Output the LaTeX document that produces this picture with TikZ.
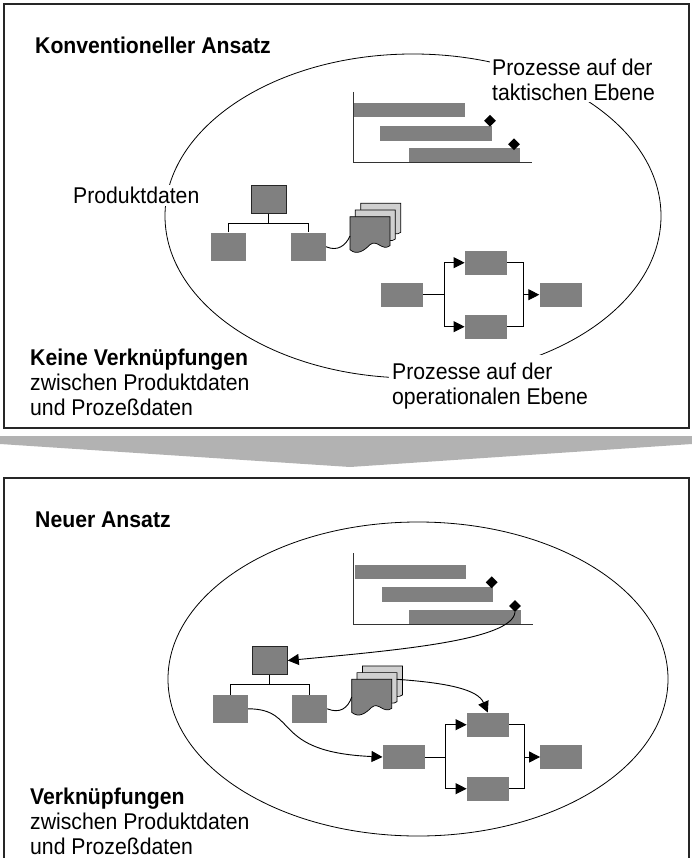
\documentclass[tikz,border=0pt]{standalone}
\usepackage{fontspec}
\setmainfont{Liberation Sans}[FakeStretch=0.93]
\usetikzlibrary{arrows.meta,shapes.geometric}
\definecolor{boxgray}{HTML}{808080}
\definecolor{sheetgray}{HTML}{D0D0D0}
\definecolor{bandgray}{HTML}{B2B2B2}
\begin{document}
\begin{tikzpicture}[x=1pt,y=-1pt,
  every node/.style={font=\fontsize{22.8}{25}\selectfont},
  frame/.style={draw=black!85, line width=1.1pt},
  ring/.style={draw=black, line width=0.8pt},
  wire/.style={draw=black, line width=0.9pt},
  flow/.style={wire, -{Triangle[length=11pt,width=11pt]}},
  axisline/.style={draw=black!80, line width=0.9pt},
  bar/.style={fill=boxgray},
  pbox/.style={fill=boxgray, inner sep=0pt, minimum width=42pt, minimum height=24pt},
  orgbox/.style={fill=boxgray, inner sep=0pt, minimum width=35pt, minimum height=28pt},
  orgtop/.style={orgbox, draw=black!85, line width=1pt},
  milestone/.style={diamond, fill=black, inner sep=0pt, minimum width=12pt, minimum height=12pt},
  lbl/.style={align=left, inner sep=0pt, anchor=north west},
  masklbl/.style={align=left, inner sep=2pt, fill=white},
  heading/.style={anchor=base west, inner sep=0pt, font=\fontsize{22.8}{25}\selectfont\bfseries},
  pics/docsheet/.style={code={
    \path[draw=black, line width=0.7pt, fill=#1]
      (0,0) -- (40,0) -- (40,29)
      .. controls (32,35) and (27,22) .. (20,28)
      .. controls (14,34) and (7,39) .. (0,33) -- cycle;
  }}
]
\useasboundingbox (0,0) rectangle (692,858);

% ---------- panel frames and transition band ----------
\draw[frame] (4,4) rectangle (689,428);
\draw[frame] (4,862) -- (4,478) -- (689,478) -- (689,862);
\fill[bandgray] (0,436) -- (692,436) -- (692,444) -- (350,467) -- (0,444) -- cycle;

% ======================= conventional approach =======================
\draw[ring] (413,216) ellipse [x radius=248, y radius=162];

\node[heading] (tTitle) at (35,54) {Konventioneller Ansatz};
\node[masklbl, anchor=north west] (tTact) at (490,56.4) {Prozesse auf der\\taktischen Ebene};
\node[masklbl, anchor=base west] (tProd) at (71,204) {Produktdaten};
\node[masklbl, anchor=north west, inner xsep=3pt, inner ysep=8pt] (tOper) at (389,354.4) {Prozesse auf der\\operationalen Ebene};
\node[lbl] (tNote) at (30,348.5) {{\bfseries Keine Verknüpfungen}\\zwischen Produktdaten\\und Prozeßdaten};

% Gantt chart
\fill[bar] (353,102.7) rectangle (465,117.3);
\fill[bar] (380,126) rectangle (491.7,140.7);
\fill[bar] (409,148.3) rectangle (520,162);
\draw[axisline] (353,92) -- (353,162) -- (532,162);
\node[milestone] (tM1) at (490,120.7) {};
\node[milestone] (tM2) at (514,144.3) {};

% product structure
\node[orgtop] (tA) at (268.5,199.2) {};
\node[orgbox] (tB) at (228.3,246.7) {};
\node[orgbox] (tC) at (308.3,246.7) {};
\draw[wire] (tA.south) -- ++(0,9.5) coordinate (tJ);
\draw[wire] (tB.north) |- (tJ) -| (tC.north);

% document stack
\pic at (360.7,203.3) {docsheet=sheetgray};
\pic at (355.3,210) {docsheet=sheetgray};
\pic at (350,216.7) {docsheet=boxgray};
\coordinate (tDoc) at (350,236);
\draw[wire] (tC.east) .. controls (338,252) and (346,245) .. (tDoc);

% operational process
\node[pbox] (tP1) at (401.8,294.7) {};
\node[pbox] (tP2) at (485.8,262.7) {};
\node[pbox] (tP3) at (485.8,326.7) {};
\node[pbox] (tP4) at (560.5,294.7) {};
\coordinate (tS) at (444,294.7);
\coordinate (tE) at (523.3,294.7);
\draw[wire] (tP1.east) -- (tS);
\draw[flow] (tS) |- (tP2.west);
\draw[flow] (tS) |- (tP3.west);
\draw[wire] (tP2.east) -| (tE);
\draw[wire] (tP3.east) -| (tE);
\draw[flow] (tE) -- (tP4.west);

% ========================== new approach ==========================
\draw[ring] (418,679) ellipse [x radius=250, y radius=157];

\node[heading] (bTitle) at (35,527) {Neuer Ansatz};
\node[lbl] (bNote) at (30,787.5) {{\bfseries Verknüpfungen}\\zwischen Produktdaten\\und Prozeßdaten};

% Gantt chart
\fill[bar] (355,565) rectangle (466,579.3);
\fill[bar] (381.7,586.7) rectangle (492.7,601.7);
\fill[bar] (409,610) rectangle (520.7,624);
\draw[axisline] (353.3,553) -- (353.3,624) -- (532.7,624);
\node[milestone] (bM1) at (491.7,582.3) {};
\node[milestone] (bM2) at (515,606) {};

% product structure
\node[orgtop] (bA) at (269.8,660.5) {};
\node[orgbox] (bB) at (230.5,708.8) {};
\node[orgbox] (bC) at (309.5,708.8) {};
\draw[wire] (bA.south) -- ++(0,9.8) coordinate (bJ);
\draw[wire] (bB.north) |- (bJ) -| (bC.north);

% document stack
\pic at (362.4,665.9) {docsheet=sheetgray};
\pic at (357,672.6) {docsheet=sheetgray};
\pic at (351.7,679.3) {docsheet=boxgray};
\coordinate (bDocL) at (351.7,697);
\coordinate (bDocR) at (396.7,679.3);
\draw[wire] (bC.east) .. controls (340,714) and (348,708) .. (bDocL);

% operational process
\node[pbox] (bP1) at (403.7,757) {};
\node[pbox] (bP2) at (487.8,724.7) {};
\node[pbox] (bP3) at (487.8,788.7) {};
\node[pbox] (bP4) at (561.3,757) {};
\coordinate (bS) at (445.3,757);
\coordinate (bE) at (524.3,757);
\draw[wire] (bP1.east) -- (bS);
\draw[flow] (bS) |- (bP2.west);
\draw[flow] (bS) |- (bP3.west);
\draw[wire] (bP2.east) -| (bE);
\draw[wire] (bP3.east) -| (bE);
\draw[flow] (bE) -- (bP4.west);

% links between product data and process data
\draw[flow] (bM2.south) .. controls (512,640) and (400,650) .. (bA.east);
\draw[flow] (bDocR) .. controls (450,683) and (478,690) .. (bP2.north);
\draw[flow] (bB.east) .. controls (300,709) and (270,752) .. (bP1.west);

\end{tikzpicture}
\end{document}
